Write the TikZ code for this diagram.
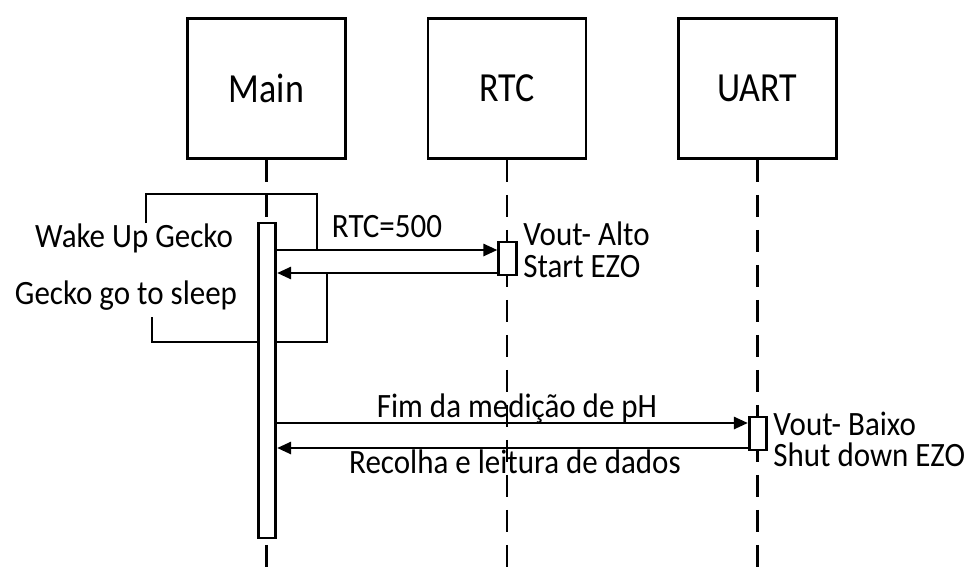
\documentclass[tikz,border=0pt]{standalone}
\usepackage{fontspec}
\setmainfont{Carlito}
\usetikzlibrary{arrows.meta, positioning}
\newcommand{\tall}[2][1.1]{\scalebox{1}[#1]{#2}}

\begin{document}
\begin{tikzpicture}[
                    x=1pt, y=-1pt,
                    line width=2.7pt,
                    actor/.style={draw, minimum width=158pt, minimum height=140pt,
                        inner sep=0pt, font=\fontsize{36}{38}\selectfont},
                    lifeline/.style={dash pattern=on 22pt off 13pt},
                    activation/.style={draw, fill=white, minimum width=17.5pt, inner sep=0pt},
                    msg/.style={-{Triangle[length=14pt, width=12pt]}},
                    lbl/.style={font=\fontsize{31}{31}\selectfont, inner sep=0pt}
                ]
                \useasboundingbox (0, 0) rectangle (973, 570);

                % participants and their lifelines
                \node[actor] (main) at (266.5, 88.5) {\tall[1.15]{Main}};
                \node[actor] (rtc) at (507, 88.5) {\tall[1.15]{RTC}};
                \node[actor] (uart) at (757.5, 88.5) {\tall[1.15]{UART}};
                \draw[lifeline] (main.south) -- (main.south |- 0, 570);
                \draw[lifeline] (rtc.south) -- (rtc.south |- 0, 570);
                \draw[lifeline] (uart.south) -- (uart.south |- 0, 570);

                % rows of the messages
                \coordinate (wakeRow) at (0, 250);
                \coordinate (backRow) at (0, 273);
                \coordinate (fimRow) at (0, 423);
                \coordinate (readRow) at (0, 448);

                % wake / sleep frames
                \draw (146, 223) -- (146, 194) -- (317, 194) -- (317, 0 |- wakeRow);
                \draw (327, 0 |- backRow) -- (327, 342) -- (152, 342) -- (152, 317);

                % activations
                \node[activation, minimum height=315pt] (mainAct) at (267, 380.5) {};
                \node[activation, minimum height=33pt] (rtcAct) at (507.5, 258.5) {};
                \node[activation, minimum height=33pt] (uartAct) at (758, 433.5) {};

                % messages
                \draw[msg] (mainAct.east |- wakeRow) -- (rtcAct.west |- wakeRow);
                \draw[msg] (rtcAct.west |- backRow) -- (mainAct.east |- backRow);
                \draw[msg] (mainAct.east |- fimRow) -- (uartAct.west |- fimRow);
                \draw[msg] (uartAct.west |- readRow) -- (mainAct.east |- readRow);

                % labels
                \node[lbl, anchor=base] (wake) at (134, 247) {\tall{Wake Up Gecko}};
                \node[lbl, anchor=base] (sleep) at (126, 304) {\tall{Gecko go to sleep}};
                \node[lbl, anchor=base] (rtcSet) at (387, 237) {\tall{RTC=500}};
                \node[lbl, anchor=base west] (voutAlto) at (522, 245) {\tall{Vout- Alto}};
                \node[lbl, anchor=base west] (startEzo) at (522, 277) {\tall{Start EZO}};
                \node[lbl, anchor=base] (fim) at (517, 417) {\tall{Fim da medição de pH}};
                \node[lbl, anchor=base] (recolha) at (515, 473) {\tall{Recolha e leitura de dados}};
                \node[lbl, anchor=base west] (voutBaixo) at (772, 435) {\tall{Vout- Baixo}};
                \node[lbl, anchor=base west] (shutEzo) at (772, 466) {\tall{Shut down EZO}};
            \end{tikzpicture}
\end{document}
